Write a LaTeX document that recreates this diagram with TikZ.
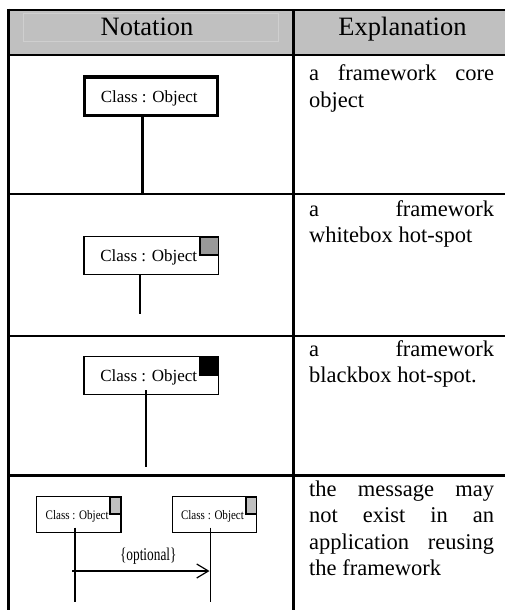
\documentclass[tikz,border=0pt]{standalone}
\usepackage{fontspec}
\setmainfont{Liberation Serif}
\usetikzlibrary{arrows.meta}

\definecolor{headgray}{RGB}{192,192,192}
\definecolor{headrule}{RGB}{207,207,207}
\definecolor{whitespot}{RGB}{153,153,153}
\definecolor{lightspot}{RGB}{192,192,192}

% justified explanation paragraph, baseline of its first line on the anchor
\newcommand\explainpar[1]{\parbox[t]{185pt}{\fontsize{22.5}{26.5}\selectfont
  \hyphenpenalty=10000 \exhyphenpenalty=10000 \tolerance=10000 #1}}

\tikzset{
  tablerule/.style={line width=2.7pt},
  corebox/.style={draw, line width=3.5pt, inner sep=0pt, minimum width=132.8pt, minimum height=38.5pt},
  objbox/.style={draw, line width=1.2pt, inner sep=0pt, minimum width=134.8pt, minimum height=37.8pt},
  smallbox/.style={draw, line width=1.2pt, inner sep=0pt, minimum width=84.6pt, minimum height=36pt},
  spot/.style={draw, line width=1.8pt, inner sep=0pt, anchor=north east, minimum width=18.2pt, minimum height=17.9pt},
  smallspot/.style={spot, minimum width=10.6pt, minimum height=17.2pt, fill=lightspot},
  corelife/.style={line width=3pt},
  lifeline/.style={line width=1.2pt},
  message/.style={line width=1.2pt, -{Straight Barb[length=11.6pt, width=14pt]}},
  objlabel/.style={inner sep=0pt, anchor=base, font=\fontsize{17}{20}\selectfont},
  smalllabel/.style={inner sep=0pt, anchor=base, font=\fontsize{13}{15}\selectfont},
  headtext/.style={inner sep=0pt, anchor=base, font=\fontsize{26.5}{30}\selectfont},
  explain/.style={inner sep=0pt, anchor=base west},
}

\begin{document}
\begin{tikzpicture}[x=1pt, y=-1pt]
  \useasboundingbox (0,0) rectangle (505,610);

  % header band
  \fill[headgray] (8.5,10) rectangle (505,55);
  \draw[headrule, line width=0.8pt] (23,13.5) rectangle (278,41);
  \node[headtext] (hnot) at (147,35.5) {Notation};
  \node[headtext] (hexp) at (402.5,35.5) {Explanation};

  % table rules
  \draw[tablerule] (7.2,10) -- (505,10);
  \draw[tablerule] (7.2,55) -- (505,55);
  \draw[tablerule] (7.2,194) -- (505,194);
  \draw[tablerule] (7.2,336) -- (505,336);
  \draw[tablerule] (7.2,475.5) -- (505,475.5);
  \draw[tablerule] (8.5,8.7) -- (8.5,610);
  \draw[tablerule] (293.5,10) -- (293.5,610);

  % row 1: framework core object
  \node[corebox] (core) at (150.85,96) {};
  \node[objlabel] (corelbl) at (149.2,102.5) {Class : Object};
  \coordinate (coreend) at (142,193);
  \draw[corelife] (core.south -| coreend) -- (coreend);
  \node[explain] (exp1) at (309,81) {\explainpar{a framework core object}};

  % row 2: whitebox hot-spot
  \node[objbox] (white) at (151.3,255.5) {};
  \node[spot, fill=whitespot] (whitespot) at (white.north east) {};
  \node[objlabel] (whitelbl) at (148.7,261) {Class : Object};
  \coordinate (whiteend) at (140,314);
  \draw[lifeline] (white.south -| whiteend) -- (whiteend);
  \node[explain] (exp2) at (309,216) {\explainpar{a framework whitebox hot-spot}};

  % row 3: blackbox hot-spot
  \node[objbox] (black) at (151.3,375.5) {};
  \node[spot, fill=black] (blackspot) at (black.north east) {};
  \node[objlabel] (blacklbl) at (148.7,381) {Class : Object};
  \coordinate (blacktop) at (146,390);
  \coordinate (blackend) at (146,466.7);
  \draw[lifeline] (blacktop) -- (blackend);
  \node[explain] (exp3) at (309,356) {\explainpar{a framework blackbox hot-spot.}};

  % row 4: optional message between two objects
  \node[smallbox] (objA) at (78.7,514.6) {};
  \node[smallspot] (spotA) at (objA.north east) {};
  \node[smalllabel] (lblA) at (77.2,519) {\scalebox{0.85}[1]{Class : Object}};
  \node[smallbox] (objB) at (214.5,514.6) {};
  \node[smallspot] (spotB) at (objB.north east) {};
  \node[smalllabel] (lblB) at (212.5,519) {\scalebox{0.85}[1]{Class : Object}};
  \coordinate (lifeAtop) at (75,527.7);
  \coordinate (lifeAend) at (75,601.7);
  \coordinate (lifeBtop) at (210.7,527.7);
  \coordinate (lifeBend) at (210.7,601.7);
  \draw[lifeline] (lifeAtop) -- (lifeAend);
  \draw[lifeline] (lifeBtop) -- (lifeBend);
  \coordinate (msgstart) at (72.3,571);
  \coordinate (msgend) at (209.5,571);
  \draw[message] (msgstart) -- (msgend);
  \node[inner sep=0pt, anchor=base, font=\fontsize{18}{20}\selectfont] (optlbl) at (148.3,560.5) {\scalebox{0.74}[1]{\{optional\}}};
  \node[explain] (exp4) at (309,496) {\explainpar{the message may\linebreak{} not exist in an application reusing the framework}};
\end{tikzpicture}
\end{document}
